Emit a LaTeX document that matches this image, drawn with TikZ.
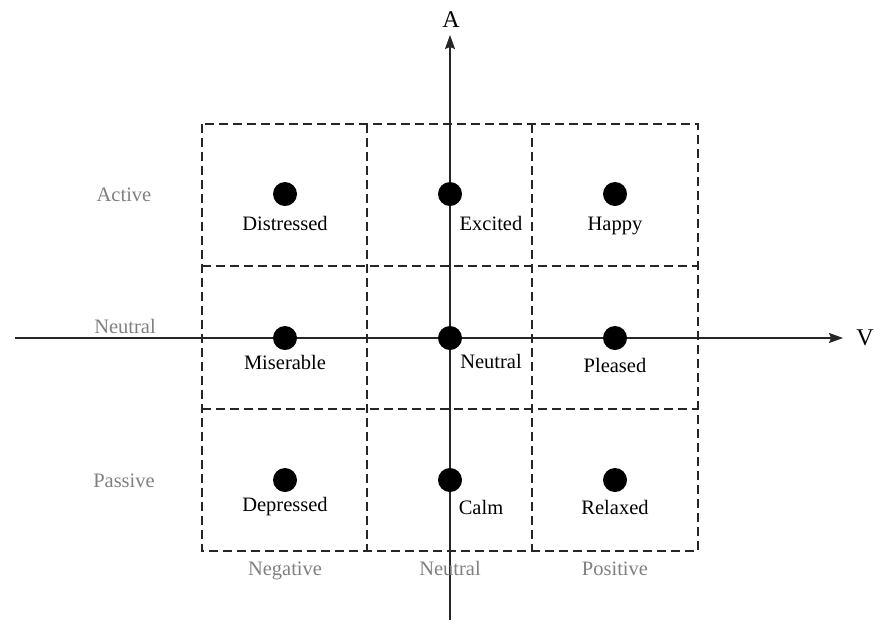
\documentclass[tikz,border=0pt]{standalone}
\usepackage{fontspec}
\setmainfont{Liberation Serif}
\usetikzlibrary{arrows.meta}
\definecolor{lbl}{RGB}{128,128,128}
\tikzset{
  cell/.style={draw=black!85, line width=1.2pt, dash pattern=on 9pt off 5pt},
  axis/.style={draw=black!85, line width=1.4pt, -{Stealth[length=14pt,width=10pt,inset=2pt]}},
  dot/.style={circle, fill=black, inner sep=0pt, minimum width=24pt, minimum height=23pt},
  emo/.style={anchor=base, font=\fontsize{20.5}{20.5}\selectfont, inner sep=0pt},
  side/.style={anchor=base, font=\fontsize{20.5}{20.5}\selectfont, text=lbl, inner sep=0pt},
  axlbl/.style={anchor=base, font=\fontsize{24}{24}\selectfont, inner sep=0pt}
}
\begin{document}
\begin{tikzpicture}[x=1pt,y=-1pt]
\useasboundingbox (0,0) rectangle (875,622);
% grid
\draw[cell] (202,124) rectangle (698,551);
\foreach \xx in {367,532} \draw[cell] (\xx,124) -- (\xx,551);
\foreach \yy in {266,409} \draw[cell] (202,\yy) -- (698,\yy);
% axes
\coordinate (hs) at (15,338);
\coordinate (he) at (843,338);
\coordinate (vs) at (450,620);
\coordinate (ve) at (450,35);
\draw[axis] (hs) -- (he);
\draw[axis] (vs) -- (ve);
\node[axlbl] (A) at (451,27) {A};
\node[axlbl] (V) at (865,345) {V};
% dots
\node[dot] (d11) at (285,194) {};
\node[dot] (d12) at (450,194) {};
\node[dot] (d13) at (615,194) {};
\node[dot] (d21) at (285,338) {};
\node[dot] (d22) at (450,338) {};
\node[dot] (d23) at (615,338) {};
\node[dot] (d31) at (285,480) {};
\node[dot] (d32) at (450,480) {};
\node[dot] (d33) at (615,480) {};
% emotion labels
\node[emo] (l11) at (285,230) {Distressed};
\node[emo] (l12) at (491,230) {Excited};
\node[emo] (l13) at (615,230) {Happy};
\node[emo] (l21) at (285,369) {Miserable};
\node[emo] (l22) at (491,368) {Neutral};
\node[emo] (l23) at (615,372) {Pleased};
\node[emo] (l31) at (285,511) {Depressed};
\node[emo] (l32) at (481,514) {Calm};
\node[emo] (l33) at (615,514) {Relaxed};
% side labels
\node[side] (sa) at (124,201) {Active};
\node[side] (sn) at (125,333) {Neutral};
\node[side] (sp) at (124,487) {Passive};
\node[side] (bn) at (285,575) {Negative};
\node[side] (bu) at (450,575) {Neutral};
\node[side] (bp) at (615,575) {Positive};
\end{tikzpicture}
\end{document}
